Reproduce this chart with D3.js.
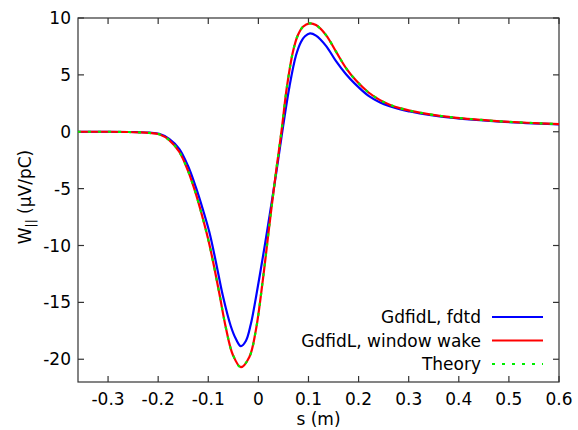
<!DOCTYPE html>
<html><head><meta charset="utf-8">
<script src="https://cdn.jsdelivr.net/npm/d3@7"></script>
<style>body{margin:0;background:#fff}svg{display:block}text{font-family:"DejaVu Sans",sans-serif;fill:#000}</style>
</head><body><svg id="c" width="578" height="430"></svg>
<script>
// GdfidL, window wake: s (m) and W (uV/pC)
const sWindow = [-0.36,-0.30,-0.26,-0.238,-0.218,-0.198,-0.178,-0.158,-0.141,-0.125,-0.111,-0.101,-0.091,-0.078,-0.065,-0.051,-0.035,-0.018,-0.005,0.009,0.022,0.035,0.046,0.057,0.069,0.079,0.089,0.102,0.115,0.135,0.155,0.175,0.195,0.22,0.242,0.262,0.282,0.302,0.322,0.362,0.402,0.442,0.482,0.522,0.562,0.60];
const windowWake = [0,0,-0.02,-0.05,-0.1,-0.22,-0.73,-1.76,-3.37,-5.42,-7.6,-9.3,-11.3,-14.2,-17.2,-19.6,-20.7,-19.8,-17.44,-13.0,-8.2,-3.6,0,3.96,7.04,8.5,9.23,9.53,9.38,8.5,7.04,5.6,4.5,3.45,2.8,2.38,2.08,1.86,1.68,1.40,1.20,1.05,0.92,0.82,0.74,0.67];
// GdfidL, fdtd
const sFdtd = [-0.36,-0.30,-0.26,-0.238,-0.218,-0.198,-0.178,-0.158,-0.141,-0.125,-0.111,-0.098,-0.085,-0.071,-0.055,-0.045,-0.035,-0.025,-0.015,-0.005,0.009,0.019,0.035,0.047,0.062,0.075,0.085,0.093,0.103,0.115,0.135,0.155,0.175,0.192,0.22,0.242,0.262,0.282,0.302,0.322,0.362,0.402,0.442,0.482,0.522,0.562,0.60];
const fdtd = [0,0,-0.02,-0.04,-0.08,-0.18,-0.62,-1.5,-2.95,-4.85,-6.8,-8.8,-11.4,-14.4,-17.1,-18.2,-18.85,-18.4,-16.9,-14.6,-11.0,-8.3,-3.8,-0.2,3.96,6.7,7.9,8.4,8.65,8.45,7.55,6.2,5.05,4.25,3.15,2.6,2.25,1.98,1.78,1.61,1.35,1.16,1.01,0.89,0.79,0.71,0.65];
// Theory (coincides with window wake)
const sTheory = sWindow.slice();
const theory = windowWake.slice();
const xTicks = [-0.3,-0.2,-0.1,0,0.1,0.2,0.3,0.4,0.5,0.6];
const yTicks = [-20,-15,-10,-5,0,5,10];
const seriesNames = ["GdfidL, fdtd","GdfidL, window wake","Theory"];

const svg = d3.select("#c");
const L=78,R=559,T=18,B=382;
const x = d3.scaleLinear().domain([-0.36,0.6]).range([L,R]);
const y = d3.scaleLinear().domain([-22,10]).range([B,T]);

const axisColor="#333";
const fs=17;
svg.append("rect").attr("x",L).attr("y",T).attr("width",R-L).attr("height",B-T)
  .attr("fill","none").attr("stroke",axisColor).attr("stroke-width",1.2);
svg.append("clipPath").attr("id","cp").append("rect").attr("x",L).attr("y",T).attr("width",R-L).attr("height",B-T);

const tl=6;
const g=svg.append("g").attr("stroke",axisColor).attr("stroke-width",1.2);
xTicks.forEach(t=>{
  g.append("line").attr("x1",x(t)).attr("x2",x(t)).attr("y1",B).attr("y2",B-tl);
  g.append("line").attr("x1",x(t)).attr("x2",x(t)).attr("y1",T).attr("y2",T+tl);
});
yTicks.forEach(t=>{
  g.append("line").attr("x1",L).attr("x2",L+tl).attr("y1",y(t)).attr("y2",y(t));
  g.append("line").attr("x1",R).attr("x2",R-tl).attr("y1",y(t)).attr("y2",y(t));
});
xTicks.forEach(t=>{
  svg.append("text").attr("x",x(t)).attr("y",405).attr("text-anchor","middle")
    .attr("font-size",fs).text(String(t));
});
yTicks.forEach(t=>{
  svg.append("text").attr("x",71).attr("y",y(t)+6).attr("text-anchor","end")
    .attr("font-size",fs).text(String(t));
});
svg.append("text").attr("x",(L+R)/2).attr("y",425).attr("text-anchor","middle").attr("font-size",fs).text("s (m)");
const yl = svg.append("text").attr("transform","translate(31,197) rotate(-90)").attr("text-anchor","middle").attr("font-size",fs);
yl.append("tspan").text("W");
yl.append("tspan").attr("font-size",12).attr("dy",4).text("||");
yl.append("tspan").attr("dy",-4).text(" (\u03bcV/pC)");

const mk = (sArr)=> d3.line().x((d,i)=>x(sArr[i])).y(d=>y(d)).curve(d3.curveCatmullRom.alpha(0.5));
const plot = svg.append("g").attr("clip-path","url(#cp)");
plot.append("path").datum(fdtd).attr("d",mk(sFdtd)).attr("fill","none").attr("stroke","#0000ff").attr("stroke-width",2.2);
plot.append("path").datum(windowWake).attr("d",mk(sWindow)).attr("fill","none").attr("stroke","#ff0000").attr("stroke-width",2.2);
plot.append("path").datum(theory).attr("d",mk(sTheory)).attr("fill","none").attr("stroke","#00ee00").attr("stroke-width",2.2).attr("stroke-dasharray","3,7");

const styles=[{c:"#0000ff",d:null},{c:"#ff0000",d:null},{c:"#00ee00",d:"3,7"}];
seriesNames.forEach((n,i)=>{
  const yy=317+i*23.5;
  svg.append("text").attr("x",481).attr("y",yy+6).attr("text-anchor","end").attr("font-size",fs).text(n);
  const l=svg.append("line").attr("x1",492).attr("x2",543).attr("y1",yy).attr("y2",yy).attr("stroke",styles[i].c).attr("stroke-width",2.2);
  if(styles[i].d) l.attr("stroke-dasharray",styles[i].d);
});
</script></body></html>
